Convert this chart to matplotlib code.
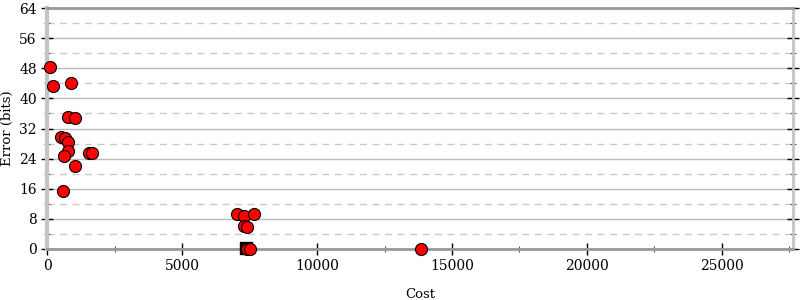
import matplotlib.pyplot as plt
from matplotlib.ticker import MultipleLocator

# red points: (cost, error bits)
cost = [111, 222, 889, 778, 1037, 519, 667, 778, 778, 630, 1037, 1556, 1667, 593,
        7037, 7296, 7667, 7296, 7407, 7407, 7500, 13852]
error = [48.3, 43.3, 44.1, 35.0, 34.8, 29.7, 29.5, 28.4, 26.0, 24.7, 22.0, 25.5, 25.5, 15.4,
         9.3, 8.8, 9.3, 6.1, 5.8, 0.0, 0.0, 0.0]

# black square point (initial program)
init_cost = [7370]
init_error = [0.3]

plt.rcParams['font.family'] = 'DejaVu Serif'
plt.rcParams['font.size'] = 10

fig = plt.figure(figsize=(8, 3), dpi=100)
ax = fig.add_axes([0.059, 0.17, 0.932, 0.803])

ax.set_xlim(0, 27630)
ax.set_ylim(0, 64)

ax.xaxis.set_major_locator(MultipleLocator(5000))
ax.xaxis.set_minor_locator(MultipleLocator(2500))
ax.yaxis.set_major_locator(MultipleLocator(8))
ax.yaxis.set_minor_locator(MultipleLocator(4))

ax.grid(True, which='major', axis='y', color='#bbbbbb', linestyle='-', linewidth=1)
ax.grid(True, which='minor', axis='y', color='#c8c8c8', linestyle=(0, (5, 4)), linewidth=1)
ax.set_axisbelow(True)

for side in ['top', 'bottom']:
    ax.spines[side].set_color('#999999')
    ax.spines[side].set_linewidth(2)
ax.spines['left'].set_color('#c4c4c4')
ax.spines['left'].set_linewidth(3)
ax.spines['right'].set_color('#c4c4c4')
ax.spines['right'].set_linewidth(2)

ax.tick_params(axis='both', which='major', direction='inout', length=8, width=1, color='black')
ax.tick_params(axis='both', which='minor', direction='inout', length=5, width=0.8, color='#555555')
ax.tick_params(axis='y', which='both', right=True)
ax.tick_params(axis='y', which='both', labelright=False)
ax.tick_params(axis='x', which='major', pad=3)

ax.scatter(init_cost, init_error, marker='s', s=80, color='black', zorder=3, clip_on=False)
ax.scatter(cost, error, s=75, color='red', edgecolors='black', linewidths=0.8, zorder=4, clip_on=False)

ax.set_xlabel('Cost', labelpad=11, fontsize=9.5)
ax.set_ylabel('Error (bits)', fontsize=9.5)

fig.savefig('out.png', dpi=100)
